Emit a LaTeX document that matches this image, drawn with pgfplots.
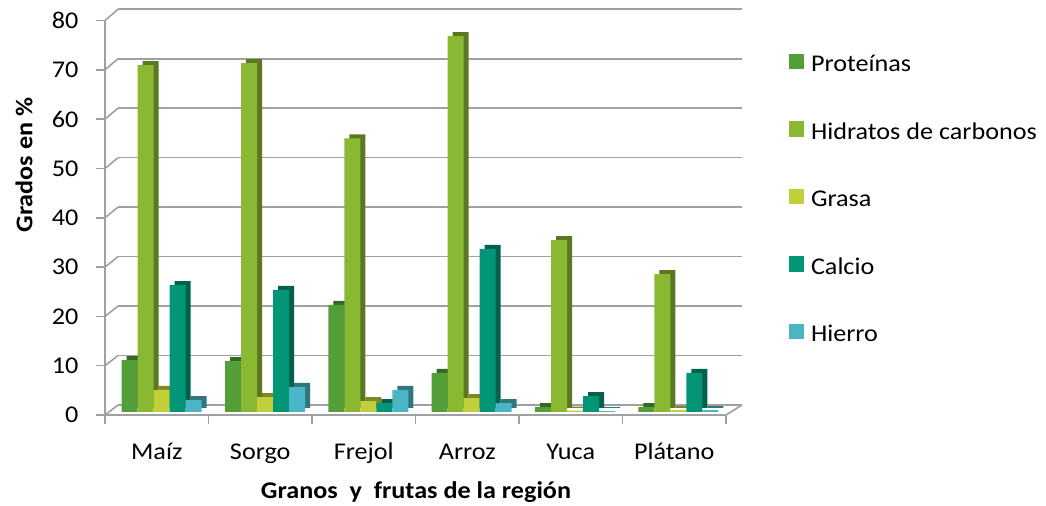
\documentclass[border=0pt]{standalone}
\usepackage{pgfplots}
\pgfplotsset{compat=1.18}
\usepackage{pgfplotstable}
\usepackage{fontspec}
\setmainfont{Carlito}[FakeStretch=1.09]

\definecolor{cProt}{HTML}{549E39}
\definecolor{cHid}{HTML}{8AB833}
\definecolor{cGra}{HTML}{C0CF3A}
\definecolor{cCal}{HTML}{029676}
\definecolor{cHie}{HTML}{4AB5C4}
\definecolor{gridc}{HTML}{A0A0A0}

% valores (grados en %)
\pgfplotstableread{
x prot hid  gra cal  hie
0 10.5 70.2 4.5 25.7 2.4
1 10.3 70.6 3.0 24.7 5.1
2 21.7 55.4 2.2 1.8  4.5
3 7.9  76.1 2.8 33.0 1.8
4 1.0  34.8 0.3 3.2  0.2
5 1.0  27.9 0.4 7.9  0.4
}\datos

\newcommand\fs{\fontsize{24bp}{29bp}\selectfont}

\pgfplotsset{
  sq legend/.style={legend image code/.code={\fill[##1] (0bp,-5.5bp) rectangle (15bp,10bp);}},
}

\begin{document}
\begin{tikzpicture}[font=\fs]
\useasboundingbox (0,0) rectangle (1046bp,506bp);

% pared del fondo
\begin{axis}[
    at={(118bp,101bp)}, anchor=south west, scale only axis,
    width=624bp, height=395.7bp,
    xmin=0, xmax=1, ymin=0, ymax=80,
    ytick={0,10,...,80}, yticklabels={}, xtick=\empty,
    ymajorgrids, major grid style={gridc, line width=1.6bp},
    axis line style={draw=none}, major tick length=0pt,
]
\end{axis}

% lineas diagonales del piso y la pared
\foreach \v in {0,1,...,8}{
  \pgfmathsetmacro\yf{91+\v*49.3125}
  \pgfmathsetmacro\yb{101+\v*49.4625}
  \draw[gridc, line width=1.6bp] (105bp,\yf bp) -- (118bp,\yb bp);
}
\draw[gridc, line width=1.6bp] (726bp,91bp) -- (742bp,101bp);

% ejes delanteros
\begin{axis}[
    at={(105bp,91bp)}, anchor=south west, scale only axis,
    width=621bp, height=394.5bp,
    xmin=0, xmax=6, ymin=0, ymax=80,
    axis x line*=bottom, axis y line*=left,
    axis line style={gridc, line width=1.6bp},
    tick style={gridc, line width=1.6bp},
    tick align=outside, major tick length=9bp,
    xtick={0,...,6}, xticklabels={},
    extra x ticks={0.5,1.5,...,5.5},
    extra x tick labels={Maíz,Sorgo,Frejol,Arroz,Yuca,Plátano},
    extra x tick style={major tick length=0pt,
        tick label style={anchor=base, yshift=-44bp}},
    ytick={0,10,...,80},
    yticklabel style={anchor=east, xshift=-14bp},
    /pgf/number format/assume math mode=true,
]
\end{axis}

% barras
\begin{axis}[
    at={(110bp,94bp)}, anchor=south west, scale only axis,
    width=620bp, height=395.2bp,
    xmin=-0.5, xmax=5.5, ymin=0, ymax=80,
    hide axis, clip=false,
    ybar, bar width=16bp,
    legend cell align=left,
    legend style={draw=none, fill=none, at={(1.0952,0.907)}, anchor=north west,
        inner sep=0pt, outer sep=0pt, row sep=48.5bp,
        nodes={inner sep=0pt, text height=17bp, text depth=1bp},
        /tikz/every odd column/.style={column sep=7bp}},
]
% caras laterales y superiores
\addplot[forget plot, draw=none, fill=cProt!65!black, bar shift=-32bp, xshift=5bp, yshift=4bp] table[x=x,y=prot]{\datos};
\addplot[forget plot, draw=none, fill=cHid!65!black, bar shift=-16bp, xshift=5bp, yshift=4bp] table[x=x,y=hid]{\datos};
\addplot[forget plot, draw=none, fill=cGra!65!black, bar shift=0bp, xshift=5bp, yshift=4bp] table[x=x,y=gra]{\datos};
\addplot[forget plot, draw=none, fill=cCal!65!black, bar shift=16bp, xshift=5bp, yshift=4bp] table[x=x,y=cal]{\datos};
\addplot[forget plot, draw=none, fill=cHie!65!black, bar shift=32bp, xshift=5bp, yshift=4bp] table[x=x,y=hie]{\datos};
% caras frontales
\addplot[draw=none, fill=cProt, bar shift=-32bp, sq legend] table[x=x,y=prot]{\datos};
\addplot[draw=none, fill=cHid, bar shift=-16bp, sq legend] table[x=x,y=hid]{\datos};
\addplot[draw=none, fill=cGra, bar shift=0bp, sq legend] table[x=x,y=gra]{\datos};
\addplot[draw=none, fill=cCal, bar shift=16bp, sq legend] table[x=x,y=cal]{\datos};
\addplot[draw=none, fill=cHie, bar shift=32bp, sq legend] table[x=x,y=hie]{\datos};
\legend{Proteínas, Hidratos de carbonos, Grasa, Calcio, Hierro}
\end{axis}

\node[rotate=90, font=\fs\bfseries] at (24bp,341bp) {Grados en \%};
\node[font=\fs\bfseries] at (416bp,14bp) {Granos\ \ y\ \ frutas de la región};
\end{tikzpicture}
\end{document}
